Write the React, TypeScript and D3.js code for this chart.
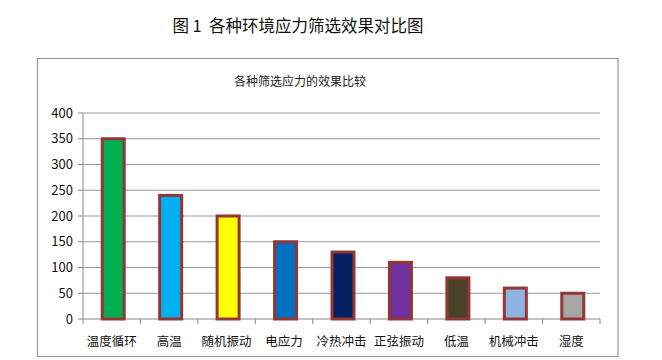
import React from "react";
import * as d3 from "d3";

const categories = ["温度循环", "高温", "随机振动", "电应力", "冷热冲击", "正弦振动", "低温", "机械冲击", "湿度"];
const values = [350, 240, 200, 150, 130, 110, 80, 60, 50];
const colors = ["#00b050", "#00b0f0", "#ffff00", "#0070c0", "#002060", "#7030a0", "#4a4228", "#8eb4e3", "#a6a6a6"];
const yTicks = [0, 50, 100, 150, 200, 250, 300, 350, 400];
const mainTitle = "图 1  各种环境应力筛选效果对比图";
const chartTitle = "各种筛选应力的效果比较";

const FONT = "'Noto Sans CJK SC', 'Noto Sans', sans-serif";

export default function App() {
  const W = 662, H = 360;
  const left = 83, right = 600, top = 113, bottom = 319;
  const x = d3.scaleBand<string>().domain(categories).range([left, right]).paddingInner(0).paddingOuter(0);
  const y = d3.scaleLinear().domain([0, 400]).range([bottom, top]);
  const bw = 22;
  return (
    <svg width={W} height={H} style={{ position: "absolute", left: 0, top: 0, background: "#fff" }}>
      <rect x={0} y={0} width={W} height={H} fill="#fff" />
      <text x={298} y={32} textAnchor="middle" fontFamily={FONT} fontSize={16.5} fill="#111" style={{ whiteSpace: "pre" }} xmlSpace="preserve">{mainTitle}</text>
      <rect x={37.5} y={58.5} width={580.5} height={298} fill="#fff" stroke="#9a9a9a" strokeWidth={1.2} />
      <text x={300} y={86} textAnchor="middle" fontFamily={FONT} fontSize={12} fill="#222">{chartTitle}</text>
      {yTicks.map((t) => (
        <g key={t}>
          {t > 0 && <line x1={left} x2={right} y1={y(t)} y2={y(t)} stroke="#999" strokeWidth={1} />}
          <line x1={left - 5} x2={left} y1={y(t)} y2={y(t)} stroke="#888" strokeWidth={1} />
          <text x={73} y={y(t) + 4.5} textAnchor="end" fontFamily={FONT} fontSize={13} fill="#111">{t}</text>
        </g>
      ))}
      <line x1={left} x2={left} y1={top} y2={bottom} stroke="#888" strokeWidth={1} />
      <line x1={left} x2={right} y1={bottom} y2={bottom} stroke="#888" strokeWidth={1} />
      {categories.map((c) => (
        <line key={"t" + c} x1={x(c)!} x2={x(c)!} y1={bottom} y2={bottom + 5} stroke="#888" strokeWidth={1} />
      ))}
      <line x1={right} x2={right} y1={bottom} y2={bottom + 5} stroke="#888" strokeWidth={1} />
      {categories.map((c, i) => {
        const cx = x(c)! + x.bandwidth() / 2 + 1.5;
        return (
          <rect key={c} x={cx - bw / 2} y={y(values[i])} width={bw} height={bottom - y(values[i])}
            fill={colors[i]} stroke="#943634" strokeWidth={3} />
        );
      })}
      {categories.map((c) => (
        <text key={"l" + c} x={x(c)! + x.bandwidth() / 2} y={346} textAnchor="middle" fontFamily={FONT} fontSize={12.5} fill="#111">{c}</text>
      ))}
    </svg>
  );
}
